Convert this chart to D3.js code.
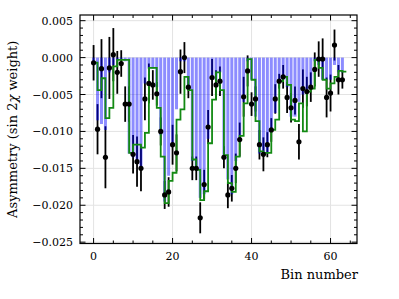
<!DOCTYPE html>
<html><head><meta charset="utf-8">
<script src="https://cdn.jsdelivr.net/npm/d3@7"></script>
<style>body{margin:0;background:#fff}svg{display:block}</style>
</head><body>
<svg id="c" width="399" height="299"></svg>
<script>
// ---- data ----
const bins = d3.range(64);
const points = [-0.0007,-0.0097,-0.0015,-0.0135,-0.0014,0.0004,-0.0020,-0.0008,-0.0063,-0.0063,
 -0.0131,-0.0141,-0.0150,-0.0056,-0.0035,-0.0037,-0.0049,-0.0100,-0.0186,-0.0182,
 -0.0118,-0.0129,-0.0019,0.0000,-0.0040,-0.0150,-0.0150,-0.0217,-0.0172,-0.0094,
 -0.0027,-0.0037,-0.0032,-0.0135,-0.0186,-0.0177,-0.0150,-0.0111,-0.0053,-0.0018,
 -0.0063,-0.0056,-0.0118,-0.0131,-0.0118,-0.0098,-0.0056,-0.0032,-0.0026,-0.0054,
 -0.0068,-0.0058,-0.0114,-0.0042,-0.0046,-0.0040,-0.0016,-0.0002,-0.0002,-0.0054,
 -0.0048,0.0017,-0.0030,-0.0030];
const errors = [0.0024,0.0034,0.0040,0.0042,0.0042,0.0036,0.0029,0.0018,0.0024,0.0024,
 0.0026,0.0034,0.0031,0.0029,0.0027,0.0020,0.0016,0.0019,0.0019,0.0020,
 0.0027,0.0025,0.0030,0.0021,0.0015,0.0016,0.0016,0.0021,0.0020,0.0023,
 0.0025,0.0020,0.0020,0.0015,0.0018,0.0018,0.0020,0.0023,0.0027,0.0021,
 0.0016,0.0017,0.0020,0.0023,0.0017,0.0016,0.0020,0.0010,0.0016,0.0021,
 0.0020,0.0019,0.0024,0.0026,0.0020,0.0020,0.0023,0.0024,0.0028,0.0027,
 0.0025,0.0021,0.0020,0.0012];
const barValues = [-0.0008,-0.0085,-0.0090,-0.0098,-0.0020,-0.0010,-0.0003,-0.0003,-0.0005,-0.0130,
 -0.0135,-0.0140,-0.0150,-0.0035,-0.0015,-0.0015,-0.0040,-0.0105,-0.0195,-0.0160,
 -0.0120,-0.0070,-0.0005,-0.0005,-0.0040,-0.0140,-0.0150,-0.0190,-0.0185,-0.0110,
 -0.0030,-0.0030,-0.0020,-0.0135,-0.0165,-0.0185,-0.0140,-0.0110,-0.0060,-0.0005,
 -0.0030,-0.0080,-0.0130,-0.0130,-0.0130,-0.0100,-0.0075,-0.0030,-0.0030,-0.0040,
 -0.0080,-0.0080,-0.0060,-0.0050,-0.0045,-0.0040,-0.0005,-0.0010,-0.0030,-0.0030,
 -0.0030,-0.0010,-0.0020,-0.0020];
const stepValues = [-0.0007,-0.0044,-0.0028,-0.0082,-0.0068,-0.0012,-0.0003,-0.0003,-0.0003,-0.0129,
 -0.0118,-0.0118,-0.0122,-0.0102,-0.0014,-0.0014,-0.0068,-0.0134,-0.0197,-0.0167,
 -0.0156,-0.0084,-0.0070,-0.0026,-0.0044,-0.0138,-0.0152,-0.0193,-0.0181,-0.0116,
 -0.0057,-0.0020,-0.0044,-0.0132,-0.0170,-0.0182,-0.0134,-0.0106,-0.0062,-0.0002,
 -0.0030,-0.0086,-0.0127,-0.0129,-0.0129,-0.0098,-0.0084,-0.0032,-0.0026,-0.0037,
 -0.0084,-0.0086,-0.0062,-0.0100,-0.0046,-0.0042,-0.0003,-0.0014,-0.0030,-0.0042,
 -0.0035,-0.0026,-0.0018,-0.0019];
const xTicks = [0,20,40,60];
const yTicks = [0.005,0.000,-0.005,-0.010,-0.015,-0.020,-0.025];

// ---- layout ----
const L=80,R=357,T=15,B=243.5;
const x = d3.scaleLinear().domain([-3.44,66.7]).range([L,R]);
const y = d3.scaleLinear().domain([-0.02518,0.00577]).range([B,T]);
const svg = d3.select('#c');
const font = "'DejaVu Serif', serif";
const fmt = v => (v<0?'\u2212':'') + Math.abs(v).toFixed(3);

// grid
const g = svg.append('g');
g.selectAll('.gx').data(xTicks).join('line')
 .attr('x1',d=>x(d)).attr('x2',d=>x(d)).attr('y1',T).attr('y2',B)
 .attr('stroke','#e3e3e3').attr('stroke-width',1);
g.selectAll('.gy').data(yTicks).join('line')
 .attr('x1',L).attr('x2',R).attr('y1',d=>y(d)).attr('y2',d=>y(d))
 .attr('stroke','#e3e3e3').attr('stroke-width',1);

// error bars
svg.append('g').selectAll('line').data(bins).join('line')
 .attr('x1',d=>x(d)).attr('x2',d=>x(d))
 .attr('y1',d=>y(points[d]+errors[d])).attr('y2',d=>y(points[d]-errors[d]))
 .attr('stroke','#000').attr('stroke-width',1.8);

// bars
const bw = 0.76;
svg.append('g').selectAll('rect').data(bins).join('rect')
 .attr('x',d=>x(d-bw/2)).attr('width',x(bw)-x(0))
 .attr('y',d=>Math.min(y(0),y(barValues[d])))
 .attr('height',d=>Math.abs(y(barValues[d])-y(0)))
 .attr('fill','#0000ff').attr('fill-opacity',0.45);

// step
const stepData = bins.map(d=>[d,stepValues[d]]).concat([[64,stepValues[63]]]);
svg.append('path').datum(stepData)
 .attr('d',d3.line().x(d=>x(d[0])).y(d=>y(d[1])).curve(d3.curveStepAfter))
 .attr('fill','none').attr('stroke','#138a13').attr('stroke-width',1.8);

// markers
svg.append('g').selectAll('circle').data(bins).join('circle')
 .attr('cx',d=>x(d)).attr('cy',d=>y(points[d])).attr('r',2.6).attr('fill','#000');

// frame & ticks
const ax = svg.append('g').attr('stroke','#000');
ax.append('rect').attr('x',L).attr('y',T).attr('width',R-L).attr('height',B-T)
 .attr('fill','none').attr('stroke-width',1.2);
const xMinor = d3.range(-0,66,5).filter(v=>!xTicks.includes(v));
const yMinor = d3.range(-25,6,1).map(v=>v/1000).filter(v=>!yTicks.some(t=>Math.abs(t-v)<1e-9));
function vt(list,len){
  list.forEach(v=>{
    ax.append('line').attr('x1',x(v)).attr('x2',x(v)).attr('y1',B).attr('y2',B-len).attr('stroke-width',1);
    ax.append('line').attr('x1',x(v)).attr('x2',x(v)).attr('y1',T).attr('y2',T+len).attr('stroke-width',1);
  });
}
function ht(list,len){
  list.forEach(v=>{
    ax.append('line').attr('y1',y(v)).attr('y2',y(v)).attr('x1',L).attr('x2',L+len).attr('stroke-width',1);
    ax.append('line').attr('y1',y(v)).attr('y2',y(v)).attr('x1',R).attr('x2',R-len).attr('stroke-width',1);
  });
}
vt(xTicks,5.5); vt(xMinor,3); ht(yTicks,5.5); ht(yMinor,3);

// tick labels
svg.append('g').selectAll('text').data(xTicks).join('text')
 .attr('x',d=>x(d)).attr('y',B+16).attr('text-anchor','middle')
 .attr('font-family',font).attr('font-size',11).text(d=>d);
svg.append('g').selectAll('text').data(yTicks).join('text')
 .attr('x',L-7).attr('y',d=>y(d)+4).attr('text-anchor','end')
 .attr('font-family',font).attr('font-size',11).text(d=>fmt(d));

// axis labels
svg.append('text').attr('x',R+1).attr('y',B+35).attr('text-anchor','end')
 .attr('font-family',font).attr('font-size',13).text('Bin number');
const yl = svg.append('text').attr('transform',`translate(17,${(T+B)/2}) rotate(-90)`)
 .attr('text-anchor','middle').attr('font-family',font).attr('font-size',13);
yl.append('tspan').text('Asymmetry (sin 2');
yl.append('tspan').attr('font-style','italic').text('\u03c7');
yl.append('tspan').text(' weight)');
</script>
</body></html>
